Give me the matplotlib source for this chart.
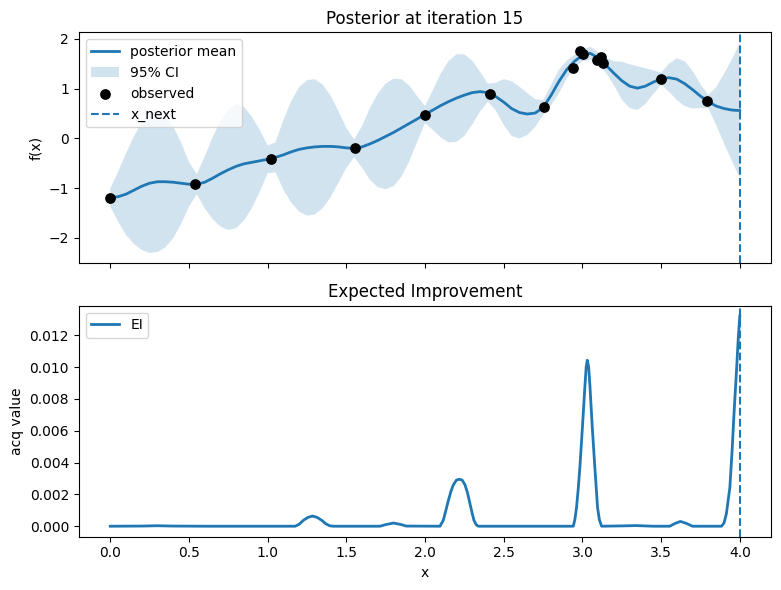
import matplotlib
matplotlib.use("Agg")
import matplotlib.pyplot as plt
import numpy as np

# posterior on a 0.05 grid
x_grid = np.round(np.arange(0, 81) * 0.05, 2)
post_mean = [
    -1.19, -1.17, -1.12, -1.04, -0.96, -0.90, -0.87, -0.87, -0.88, -0.90,
    -0.92, -0.92, -0.88, -0.80, -0.71, -0.63, -0.56, -0.51, -0.48, -0.45,
    -0.42, -0.38, -0.33, -0.27, -0.22, -0.19, -0.17, -0.16, -0.16, -0.17,
    -0.19, -0.20, -0.17, -0.11, -0.04, 0.04, 0.12, 0.21, 0.30, 0.39,
    0.48, 0.57, 0.66, 0.74, 0.81, 0.87, 0.92, 0.94, 0.92, 0.84,
    0.73, 0.60, 0.52, 0.49, 0.51, 0.62, 0.86, 1.14, 1.38, 1.55,
    1.67, 1.71, 1.62, 1.47, 1.31, 1.16, 1.05, 1.01, 1.05, 1.13,
    1.20, 1.22, 1.19, 1.10, 0.98, 0.85, 0.74, 0.65, 0.60, 0.57,
    0.56,
]
ci_half = [
    0.18, 0.50, 0.82, 1.08, 1.28, 1.40, 1.41, 1.32, 1.12, 0.82,
    0.45, 0.20, 0.52, 0.82, 1.06, 1.21, 1.24, 1.14, 0.92, 0.62,
    0.28, 0.30, 0.70, 1.02, 1.25, 1.36, 1.36, 1.24, 1.02, 0.72,
    0.40, 0.18, 0.42, 0.72, 0.94, 1.06, 1.08, 0.98, 0.76, 0.46,
    0.17, 0.40, 0.64, 0.82, 0.88, 0.82, 0.64, 0.40, 0.18, 0.28,
    0.46, 0.55, 0.52, 0.42, 0.28, 0.15, 0.20, 0.24, 0.18, 0.13,
    0.12, 0.13, 0.12, 0.15, 0.24, 0.38, 0.44, 0.44, 0.36, 0.24,
    0.12, 0.28, 0.42, 0.45, 0.38, 0.24, 0.13, 0.38, 0.70, 1.02,
    1.36,
]

x_obs = [0.0, 0.54, 1.02, 1.555, 2.0, 2.41, 2.756, 2.94, 2.984, 3.005,
         3.09, 3.12, 3.13, 3.5, 3.79]
y_obs = [-1.19, -0.92, -0.42, -0.20, 0.48, 0.90, 0.64, 1.42, 1.76, 1.69,
         1.58, 1.64, 1.51, 1.20, 0.76]

x_next = 4.0

# expected improvement
ei_x = [0.0, 0.2, 0.3, 0.4, 0.6, 1.0, 1.175, 1.20, 1.227, 1.255, 1.285,
        1.315, 1.344, 1.37, 1.397, 1.42, 1.714, 1.75, 1.80, 1.85, 1.88,
        2.095, 2.116, 2.13, 2.148, 2.165, 2.18, 2.20, 2.218, 2.236, 2.254,
        2.27, 2.286, 2.30, 2.311, 2.325, 2.338, 2.942, 2.952, 2.963, 2.974,
        2.984, 3.001, 3.016, 3.024, 3.031, 3.04, 3.048, 3.062, 3.079, 3.088,
        3.096, 3.108, 3.122, 3.25, 3.34, 3.45, 3.555, 3.59, 3.623, 3.66,
        3.70, 3.884, 3.90, 3.915, 3.937, 3.951, 3.964, 3.979, 3.991, 4.0]
ei_y = [0.0, 0.00001, 0.00003, 0.00001, 0.0, 0.0, 0.0, 0.00012, 0.00037,
        0.00055, 0.00064, 0.00055, 0.00037, 0.00015, 0.00002, 0.0, 0.0,
        0.0001, 0.0002, 0.0001, 0.00001, 0.0, 0.00037, 0.0009, 0.0016,
        0.0022, 0.0026, 0.0029, 0.00295, 0.0029, 0.0026, 0.0021, 0.0014,
        0.0008, 0.00037, 0.0001, 0.0, 0.0, 0.0004, 0.0012, 0.0024, 0.0037,
        0.00635, 0.0088, 0.0100, 0.01043, 0.0100, 0.0088, 0.00635, 0.0037,
        0.0024, 0.0012, 0.0004, 0.0, 0.00002, 0.00004, 0.0, 0.0, 0.00018,
        0.0003, 0.00018, 0.0, 0.0, 0.0002, 0.00079, 0.00243, 0.0047,
        0.00718, 0.00975, 0.0119, 0.0132]

mean = np.array(post_mean)
half = np.array(ci_half)

fig, (ax1, ax2) = plt.subplots(2, 1, figsize=(8, 6), sharex=True)

ax1.plot(x_grid, mean, lw=2, label='posterior mean')
ax1.fill_between(x_grid, mean - half, mean + half, alpha=0.2, label='95% CI')
ax1.scatter(x_obs, y_obs, c='k', s=45, zorder=3, label='observed')
ax1.axvline(x_next, ls='--', label='x_next')
ax1.set_ylabel('f(x)')
ax1.set_title('Posterior at iteration 15')
ax1.legend(loc='upper left')

ax2.plot(ei_x, ei_y, lw=2, label='EI')
ax2.axvline(x_next, ls='--')
ax2.set_xlabel('x')
ax2.set_ylabel('acq value')
ax2.set_title('Expected Improvement')
ax2.legend(loc='upper left')

plt.tight_layout()
plt.savefig('out.png', dpi=100, bbox_inches='tight')
